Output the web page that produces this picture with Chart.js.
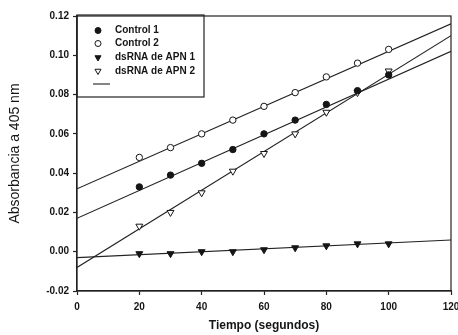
<!DOCTYPE html>
<html>
<head>
<meta charset="utf-8">
<script src="https://cdn.jsdelivr.net/npm/chart.js@4"></script>
<style>
  html, body { margin: 0; padding: 0; background: #fff; }
  #wrap { width: 458px; height: 335px; }
</style>
</head>
<body>
<div id="wrap"><canvas id="c" width="458" height="335"></canvas></div>
<script>
// datos
const tiempos = [20, 30, 40, 50, 60, 70, 80, 90, 100]
const control1 = [0.033, 0.039, 0.045, 0.052, 0.060, 0.067, 0.075, 0.082, 0.090]
const control2 = [0.048, 0.053, 0.060, 0.067, 0.074, 0.081, 0.089, 0.096, 0.103]
const apn1 = [-0.001, -0.001, 0.000, 0.000, 0.001, 0.002, 0.003, 0.004, 0.004]
const apn2 = [0.013, 0.020, 0.030, 0.041, 0.050, 0.060, 0.071, 0.081, 0.092]

// rectas de regresion (extremos)
const ajusteX = [0, 120]
const ajusteControl1 = [0.017, 0.102]
const ajusteControl2 = [0.032, 0.116]
const ajusteApn1 = [-0.003, 0.006]
const ajusteApn2 = [-0.008, 0.110]

const etiquetas = ['Control 1', 'Control 2', 'dsRNA de APN 1', 'dsRNA de APN 2', '']
const xTicks = [0, 20, 40, 60, 80, 100, 120]
const yTicks = [-0.02, 0.00, 0.02, 0.04, 0.06, 0.08, 0.10, 0.12]

const negro = '#151515'
const fuente = "'Liberation Sans', Arial, sans-serif"

function puntos(xs, ys) {
    return xs.map((x, i) => ({ x: x, y: ys[i] }))
}

function serie(label, ys, relleno, estilo) {
    return {
        label: label,
        data: puntos(tiempos, ys),
        showLine: false,
        pointStyle: estilo,
        rotation: estilo === 'triangle' ? 180 : 0,
        pointRadius: estilo === 'triangle' ? 4 : 3.2,
        pointBackgroundColor: relleno ? negro : '#fff',
        pointBorderColor: negro,
        pointBorderWidth: 1,
        order: 1
    }
}

function recta(ys) {
    return {
        label: '',
        data: puntos(ajusteX, ys),
        showLine: true,
        borderColor: '#222',
        borderWidth: 1.1,
        pointRadius: 0,
        fill: false,
        order: 2
    }
}

const datasets = [
    serie(etiquetas[0], control1, true, 'circle'),
    serie(etiquetas[1], control2, false, 'circle'),
    serie(etiquetas[2], apn1, true, 'triangle'),
    serie(etiquetas[3], apn2, false, 'triangle'),
    recta(ajusteControl1),
    recta(ajusteControl2),
    recta(ajusteApn1),
    recta(ajusteApn2)
]

// marco y leyenda dibujados a mano
const marcoLeyenda = {
    id: 'marcoLeyenda',
    afterDraw(chart) {
        const ctx = chart.ctx
        const a = chart.chartArea
        ctx.save()
        ctx.strokeStyle = '#222'
        ctx.lineWidth = 1.2
        ctx.strokeRect(a.left, a.top, a.right - a.left, a.bottom - a.top)

        // caja de la leyenda
        const lx = a.left, ly = a.top - 1
        ctx.strokeRect(lx, ly, 127, 82)
        ctx.font = 'bold 10px ' + fuente
        ctx.textBaseline = 'middle'
        ctx.fillStyle = negro
        const filas = [30.5, 43.5, 57.5, 71]
        for (let i = 0; i < 4; i++) {
            const ds = chart.data.datasets[i]
            ctx.fillStyle = ds.pointBackgroundColor
            ctx.strokeStyle = ds.pointBorderColor
            ctx.lineWidth = 1
            Chart.helpers.drawPoint(ctx, {
                pointStyle: ds.pointStyle,
                rotation: ds.rotation,
                radius: ds.pointStyle === 'triangle' ? 3.5 : 3,
                borderWidth: 1
            }, 98, filas[i])
            ctx.fillStyle = negro
            ctx.fillText(etiquetas[i], 115, filas[i])
        }
        ctx.strokeStyle = '#222'
        ctx.lineWidth = 1.1
        ctx.beginPath()
        ctx.moveTo(93, 84)
        ctx.lineTo(110, 84)
        ctx.stroke()
        ctx.restore()
    }
}

new Chart(document.getElementById('c'), {
    type: 'scatter',
    data: { datasets: datasets },
    options: {
        responsive: false,
        animation: false,
        layout: { padding: { top: 16, right: 7, left: 0, bottom: 0 } },
        plugins: {
            legend: { display: false },
            tooltip: { enabled: false }
        },
        scales: {
            x: {
                type: 'linear',
                min: 0,
                max: 120,
                afterBuildTicks: (s) => { s.ticks = xTicks.map(v => ({ value: v })) },
                afterFit: (s) => { s.height = 44; s.paddingLeft = 0; s.paddingRight = 0 },
                grid: { drawOnChartArea: false, tickLength: 4, color: '#222', tickWidth: 1.2 },
                border: { color: '#222', width: 1.2 },
                ticks: {
                    color: negro,
                    padding: 6,
                    maxRotation: 0,
                    font: { family: fuente, size: 10, weight: 'bold' }
                },
                title: {
                    display: true,
                    text: 'Tiempo (segundos)',
                    color: negro,
                    padding: { top: 4, bottom: 2 },
                    font: { family: fuente, size: 12, weight: 'bold' }
                }
            },
            y: {
                type: 'linear',
                min: -0.02,
                max: 0.12,
                afterBuildTicks: (s) => { s.ticks = yTicks.map(v => ({ value: v })) },
                afterFit: (s) => { s.width = 77; s.paddingTop = 0; s.paddingBottom = 0 },
                grid: { drawOnChartArea: false, tickLength: 4, color: '#222', tickWidth: 1.2 },
                border: { color: '#222', width: 1.2 },
                ticks: {
                    color: negro,
                    padding: 4,
                    font: { family: fuente, size: 10, weight: 'bold' },
                    callback: (v) => v.toFixed(2)
                },
                title: {
                    display: true,
                    text: 'Absorbancia a 405 nm',
                    color: negro,
                    padding: { top: 7, bottom: 0 },
                    font: { family: fuente, size: 14 }
                }
            }
        }
    },
    plugins: [marcoLeyenda]
})
</script>
</body>
</html>
